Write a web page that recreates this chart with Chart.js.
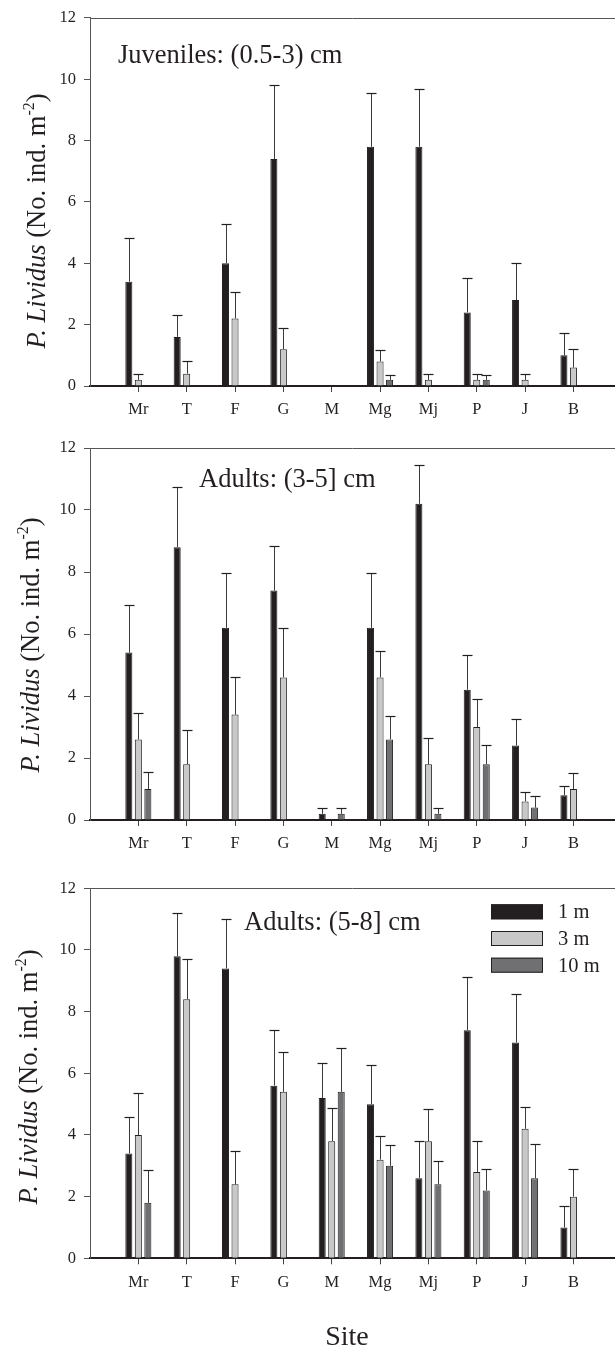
<!DOCTYPE html>
<html><head><meta charset="utf-8">
<script src="https://cdn.jsdelivr.net/npm/chart.js@4.4.1/dist/chart.umd.min.js"></script>
<style>
html,body{margin:0;padding:0;background:#fff;width:615px;height:1349px;overflow:hidden;position:relative}
canvas{position:absolute;left:0}
</style></head><body>
<canvas id="c1" width="615" height="430" style="top:0px"></canvas>
<canvas id="c2" width="615" height="440" style="top:430px"></canvas>
<canvas id="c3" width="615" height="479" style="top:870px"></canvas>
<script>
// ---------- data ----------
const sites = ['Mr','T','F','G','M','Mg','Mj','P','J','B'];
const depths = ['1 m','3 m','10 m'];
const yTicks = [0,2,4,6,8,10,12];
const panelTitles = ['Juveniles: (0.5-3) cm','Adults: (3-5] cm','Adults: (5-8] cm'];
const yTitleItalic = 'P. Lividus';
const yTitleRest = ' (No. ind. m';
const yTitleSup = '-2';
const yTitleEnd = ')';
const xTitle = 'Site';

// Juveniles (0.5-3) cm
const juv1m   = [3.4, 1.6, 4.0, 7.4, 0, 7.8, 7.8, 2.4, 2.8, 1.0];
const juv1mSE = [1.44, 0.72, 1.28, 2.41, 0, 1.76, 1.89, 1.12, 1.22, 0.73];
const juv3m   = [0.2, 0.4, 2.2, 1.2, 0, 0.8, 0.2, 0.2, 0.2, 0.6];
const juv3mSE = [0.2, 0.4, 0.86, 0.68, 0, 0.36, 0.2, 0.2, 0.2, 0.6];
const juv10m  = [0, 0, 0, 0, 0, 0.2, 0, 0.2, 0, 0];
const juv10mSE= [0, 0, 0, 0, 0, 0.15, 0, 0.15, 0, 0];

// Adults (3-5] cm
const ad35_1m   = [5.4, 8.8, 6.2, 7.4, 0.2, 6.2, 10.2, 4.2, 2.4, 0.8];
const ad35_1mSE = [1.53, 1.94, 1.77, 1.45, 0.19, 1.77, 1.26, 1.13, 0.87, 0.31];
const ad35_3m   = [2.6, 1.8, 3.4, 4.6, 0, 4.6, 1.8, 3.0, 0.6, 1.0];
const ad35_3mSE = [0.86, 1.1, 1.2, 1.58, 0, 0.85, 0.85, 0.89, 0.3, 0.51];
const ad35_10m  = [1.0, 0, 0, 0, 0.2, 2.6, 0.2, 1.8, 0.4, 0];
const ad35_10mSE= [0.56, 0, 0, 0, 0.19, 0.74, 0.19, 0.62, 0.38, 0];

// Adults (5-8] cm
const ad58_1m   = [3.4, 9.8, 9.4, 5.6, 5.2, 5.0, 2.6, 7.4, 7.0, 1.0];
const ad58_1mSE = [1.17, 1.4, 1.62, 1.8, 1.15, 1.26, 1.2, 1.73, 1.56, 0.69];
const ad58_3m   = [4.0, 8.4, 2.4, 5.4, 3.8, 3.2, 3.8, 2.8, 4.2, 2.0];
const ad58_3mSE = [1.35, 1.32, 1.09, 1.3, 1.09, 0.78, 1.04, 1.0, 0.72, 0.89];
const ad58_10m  = [1.8, 0, 0, 0, 5.4, 3.0, 2.4, 2.2, 2.6, 0];
const ad58_10mSE= [1.05, 0, 0, 0, 1.43, 0.69, 0.77, 0.69, 1.11, 0];

// ---------- style ----------
const FF = '"Liberation Serif", "Times New Roman", Times, serif';
const INK = '#231f20';
const fills = ['#231f20', '#c8c8c8', '#707073'];

function makeDatasets(vals, ses) {
  return depths.map((d, k) => ({
    label: d,
    data: vals[k].map((v, i) => ({x: i, y: v})),
    errors: ses[k],
    backgroundColor: fills[k],
    borderColor: INK,
    borderWidth: 1,
    borderSkipped: 'start',
    categoryPercentage: 0.59,
    barPercentage: 0.74
  }));
}

const errorBarPlugin = {
  id: 'errbars',
  afterDatasetsDraw(chart) {
    const ctx = chart.ctx, ys = chart.scales.y;
    chart.data.datasets.forEach((ds, di) => {
      const meta = chart.getDatasetMeta(di);
      meta.data.forEach((bar, i) => {
        const e = ds.errors[i];
        const v = ds.data[i].y;
        if (!e) return;
        const yTop = Math.round(ys.getPixelForValue(v + e)) + 0.5;
        const x = Math.round(bar.x) + 0.5;
        ctx.save();
        ctx.strokeStyle = '#3a3a3a';
        ctx.lineWidth = 1;
        ctx.beginPath();
        ctx.moveTo(x, bar.y);
        ctx.lineTo(x, yTop);
        ctx.stroke();
        ctx.strokeStyle = INK;
        ctx.lineWidth = 1.2;
        ctx.beginPath();
        ctx.moveTo(x - 5, yTop);
        ctx.lineTo(x + 5, yTop);
        ctx.stroke();
        ctx.restore();
      });
    });
  }
};

function drawYTitle(ctx, baseX, cy) {
  const size = 26.5;
  const parts = [
    {t: yTitleItalic, font: `italic ${size}px ${FF}`, dy: 0},
    {t: yTitleRest, font: `${size}px ${FF}`, dy: 0},
    {t: yTitleSup, font: `${(size * 0.6).toFixed(1)}px ${FF}`, dy: -size * 0.4},
    {t: yTitleEnd, font: `${size}px ${FF}`, dy: 0}
  ];
  let total = 0;
  parts.forEach(p => { ctx.font = p.font; p.w = ctx.measureText(p.t).width; total += p.w; });
  ctx.save();
  ctx.translate(baseX, cy);
  ctx.rotate(-Math.PI / 2);
  ctx.fillStyle = INK;
  ctx.textBaseline = 'alphabetic';
  ctx.textAlign = 'left';
  let x = -total / 2;
  parts.forEach(p => { ctx.font = p.font; ctx.fillText(p.t, x, p.dy); x += p.w; });
  ctx.restore();
}

const decoPlugin = {
  id: 'deco',
  afterDraw(chart, args, o) {
    const ctx = chart.ctx, a = chart.chartArea;
    ctx.save();
    // top frame line
    ctx.strokeStyle = '#555';
    ctx.lineWidth = 1;
    ctx.beginPath();
    ctx.moveTo(a.left, Math.round(a.top) + 0.5);
    ctx.lineTo(chart.width, Math.round(a.top) + 0.5);
    ctx.stroke();
    // panel title
    ctx.fillStyle = INK;
    ctx.font = `26.5px ${FF}`;
    ctx.textAlign = 'left';
    ctx.textBaseline = 'alphabetic';
    ctx.fillText(o.title, o.titleX, o.titleY);
    // y title
    drawYTitle(ctx, o.yTitleX, o.yTitleCY);
    // legend
    if (o.legend) {
      chart.data.datasets.forEach((ds, k) => {
        const y = o.legY + k * 26.7;
        ctx.fillStyle = ds.backgroundColor;
        ctx.fillRect(o.legX, y, 52, 15);
        ctx.strokeStyle = INK;
        ctx.lineWidth = 1;
        ctx.strokeRect(o.legX + 0.5, y + 0.5, 51, 14);
        ctx.fillStyle = INK;
        ctx.font = `20.5px ${FF}`;
        ctx.textBaseline = 'middle';
        ctx.textAlign = 'left';
        ctx.fillText(ds.label, o.legX + 67, y + 8.5);
      });
    }
    if (o.xTitle) {
      ctx.fillStyle = INK;
      ctx.font = `28px ${FF}`;
      ctx.textAlign = 'center';
      ctx.textBaseline = 'alphabetic';
      ctx.fillText(xTitle, o.xTitleX, o.xTitleY);
    }
    ctx.restore();
  }
};

function makePanel(id, vals, ses, padTop, xHeight, deco) {
  return new Chart(document.getElementById(id), {
    type: 'bar',
    data: { datasets: makeDatasets(vals, ses) },
    plugins: [errorBarPlugin, decoPlugin],
    options: {
      responsive: false,
      animation: false,
      devicePixelRatio: 1,
      layout: { padding: { top: padTop, left: 0, right: 0, bottom: 0 } },
      plugins: { legend: { display: false }, tooltip: { enabled: false }, deco: deco },
      scales: {
        x: {
          type: 'linear', min: -1, max: 9.86, offset: false,
          afterBuildTicks: s => { s.ticks = sites.map((_, i) => ({value: i})); },
          afterFit: s => { s.height = xHeight; },
          ticks: { callback: (v) => sites[v] ?? '', font: {family: FF, size: 16.5}, color: INK, padding: 8, autoSkip: false, maxRotation: 0 },
          grid: { offset: false, drawOnChartArea: false, drawTicks: true, tickLength: 6, color: '#444', lineWidth: 1 },
          border: { display: true, color: INK, width: 2 }
        },
        y: {
          min: 0, max: 12,
          afterBuildTicks: s => { s.ticks = yTicks.map(v => ({value: v})); },
          afterFit: s => { s.width = 90; },
          ticks: { font: {family: FF, size: 16.5}, color: INK, padding: 8 },
          grid: { drawOnChartArea: false, drawTicks: true, tickLength: 6, color: '#555', lineWidth: 1 },
          border: { display: true, color: '#555', width: 1 }
        }
      }
    }
  });
}

makePanel('c1', [juv1m, juv3m, juv10m], [juv1mSE, juv3mSE, juv10mSE], 15, 44,
  { title: panelTitles[0], titleX: 118, titleY: 63, yTitleX: 45, yTitleCY: 221 });
makePanel('c2', [ad35_1m, ad35_3m, ad35_10m], [ad35_1mSE, ad35_3mSE, ad35_10mSE], 18, 50,
  { title: panelTitles[1], titleX: 199, titleY: 57, yTitleX: 39, yTitleCY: 215 });
makePanel('c3', [ad58_1m, ad58_3m, ad58_10m], [ad58_1mSE, ad58_3mSE, ad58_10mSE], 18.3, 90.7,
  { title: panelTitles[2], titleX: 244, titleY: 60, yTitleX: 37, yTitleCY: 207,
    legend: true, legX: 491, legY: 34.3, xTitle: true, xTitleX: 347, xTitleY: 475 });
</script>
</body></html>
